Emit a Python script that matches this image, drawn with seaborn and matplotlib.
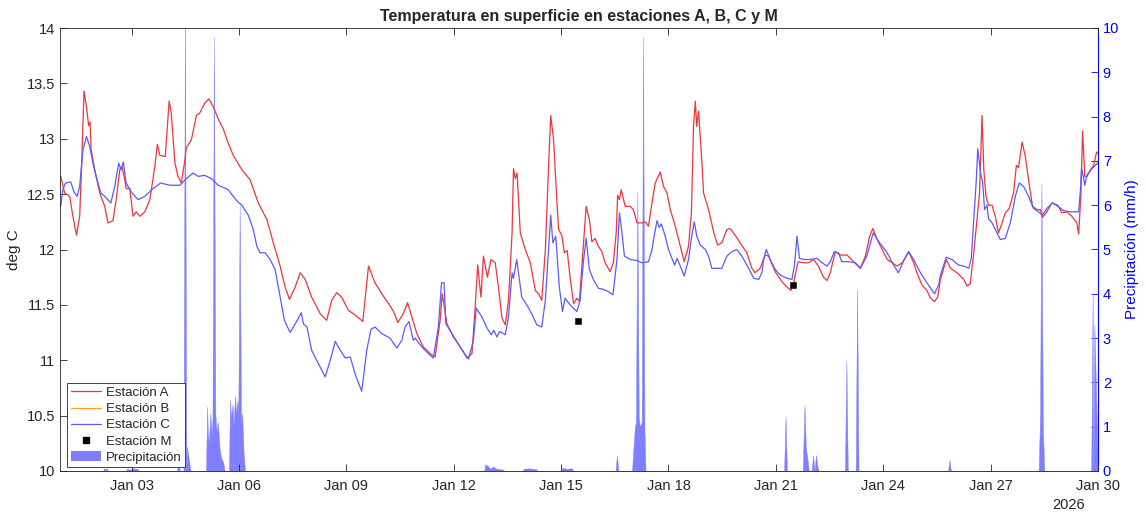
import numpy as np
import pandas as pd
import matplotlib
matplotlib.use("Agg")
import matplotlib.pyplot as plt
import matplotlib.dates as mdates
from matplotlib.lines import Line2D
from matplotlib.patches import Patch
import seaborn as sns

# ---------------- data (days since 2026-01-01 00:00) ----------------
dias_A = [0.02, 0.13, 0.27, 0.36, 0.46, 0.55, 0.61, 0.67, 0.74, 0.80, 0.84, 0.87, 0.97, 1.11, 1.25, 1.34, 1.48, 1.57,
          1.67, 1.73, 1.81, 1.85, 1.95, 2.04, 2.13, 2.23, 2.37, 2.51, 2.65, 2.72, 2.79, 2.94, 3.00, 3.05, 3.11, 3.21,
          3.30, 3.39, 3.49, 3.53, 3.67, 3.81, 3.90, 4.04, 4.16, 4.28, 4.42, 4.56, 4.70, 4.84, 4.97, 5.08, 5.31, 5.54,
          5.78, 5.96, 6.15, 6.29, 6.41, 6.57, 6.71, 6.85, 7.03, 7.27, 7.45, 7.59, 7.73, 7.87, 8.06, 8.24, 8.46, 8.62,
          8.80, 8.99, 9.18, 9.32, 9.44, 9.59, 9.71, 9.83, 9.97, 10.15, 10.34, 10.48, 10.62, 10.68, 10.81, 10.99, 11.18,
          11.37, 11.51, 11.60, 11.67, 11.76, 11.83, 11.94, 12.04, 12.16, 12.25, 12.35, 12.44, 12.53, 12.63, 12.67,
          12.72, 12.77, 12.86, 13.00, 13.14, 13.28, 13.37, 13.46, 13.56, 13.65, 13.71, 13.79, 13.88, 13.93, 14.02,
          14.09, 14.17, 14.25, 14.35, 14.44, 14.51, 14.58, 14.70, 14.79, 14.86, 14.95, 15.04, 15.14, 15.23, 15.37,
          15.46, 15.54, 15.58, 15.63, 15.68, 15.79, 15.93, 16.02, 16.12, 16.26, 16.35, 16.44, 16.54, 16.63, 16.77,
          16.86, 16.96, 17.05, 17.19, 17.33, 17.44, 17.56, 17.64, 17.70, 17.75, 17.79, 17.84, 17.93, 17.98, 18.12,
          18.26, 18.37, 18.49, 18.63, 18.72, 18.86, 19.00, 19.19, 19.33, 19.42, 19.56, 19.70, 19.80, 19.98, 20.17,
          20.31, 20.42, 20.50, 20.59, 20.63, 20.77, 20.91, 21.05, 21.19, 21.33, 21.43, 21.52, 21.66, 21.80, 21.99,
          22.17, 22.36, 22.50, 22.62, 22.71, 22.83, 22.97, 23.11, 23.25, 23.39, 23.53, 23.71, 23.85, 23.94, 24.08,
          24.22, 24.32, 24.43, 24.52, 24.60, 24.76, 24.88, 25.06, 25.25, 25.34, 25.43, 25.53, 25.62, 25.69, 25.76,
          25.81, 25.87, 25.94, 26.04, 26.13, 26.22, 26.32, 26.41, 26.52, 26.64, 26.72, 26.78, 26.88, 26.97, 27.06,
          27.17, 27.30, 27.39, 27.45, 27.57, 27.71, 27.88, 27.99, 28.13, 28.27, 28.41, 28.46, 28.52, 28.57, 28.63,
          28.69, 28.79, 28.88, 28.96, 29.02]
temp_A = [12.66, 12.51, 12.48, 12.30, 12.13, 12.30, 12.81, 13.43, 13.29, 13.12, 13.15, 12.90, 12.72, 12.51, 12.39, 12.24,
          12.26, 12.45, 12.72, 12.75, 12.63, 12.55, 12.55, 12.30, 12.34, 12.30, 12.34, 12.45, 12.75, 12.95, 12.85, 12.84,
          13.11, 13.34, 13.23, 12.78, 12.66, 12.60, 12.81, 12.92, 12.99, 13.21, 13.23, 13.32, 13.36, 13.29, 13.18, 13.09,
          12.96, 12.85, 12.78, 12.72, 12.63, 12.42, 12.27, 12.06, 11.85, 11.66, 11.55, 11.66, 11.79, 11.73, 11.57, 11.42,
          11.36, 11.54, 11.61, 11.57, 11.45, 11.41, 11.35, 11.85, 11.70, 11.60, 11.51, 11.44, 11.34, 11.42, 11.52, 11.39,
          11.24, 11.12, 11.06, 11.03, 11.36, 11.60, 11.33, 11.21, 11.12, 11.02, 11.06, 11.48, 11.86, 11.57, 11.94, 11.75,
          11.91, 11.88, 11.66, 11.38, 11.32, 11.54, 12.15, 12.73, 12.64, 12.69, 12.15, 12.00, 11.88, 11.63, 11.60, 11.54,
          12.00, 12.75, 13.21, 12.99, 12.45, 12.18, 12.13, 11.97, 11.99, 11.75, 11.51, 11.56, 11.53, 11.85, 12.39, 12.27,
          12.07, 12.10, 12.03, 11.98, 11.88, 11.80, 11.88, 12.15, 12.49, 12.45, 12.54, 12.39, 12.39, 12.36, 12.24, 12.24,
          12.25, 12.21, 12.42, 12.60, 12.70, 12.57, 12.51, 12.36, 12.21, 12.03, 11.89, 12.03, 12.33, 13.11, 13.34, 13.11,
          13.25, 12.81, 12.51, 12.36, 12.16, 12.04, 12.06, 12.18, 12.19, 12.13, 12.06, 11.97, 11.83, 11.79, 11.83, 11.95,
          11.94, 11.80, 11.71, 11.66, 11.63, 11.70, 11.85, 11.89, 11.88, 11.88, 11.91, 11.85, 11.75, 11.72, 11.79, 11.98,
          11.95, 11.95, 11.89, 11.83, 11.94, 12.12, 12.19, 12.09, 12.00, 11.91, 11.88, 11.85, 11.88, 11.98, 11.88, 11.79,
          11.68, 11.63, 11.56, 11.53, 11.57, 11.73, 11.91, 11.83, 11.79, 11.73, 11.67, 11.69, 11.97, 12.27, 12.51, 13.21,
          12.72, 12.48, 12.40, 12.40, 12.30, 12.15, 12.24, 12.33, 12.37, 12.51, 12.76, 12.74, 12.97, 12.84, 12.63, 12.39,
          12.36, 12.36, 12.29, 12.34, 12.42, 12.40, 12.33, 12.34, 12.30, 12.24, 12.14, 12.48, 13.07, 12.66, 12.66, 12.72,
          12.76, 12.88, 12.86]

dias_B = []
temp_B = []

dias_C = [0.02, 0.08, 0.15, 0.30, 0.39, 0.48, 0.55, 0.64, 0.74, 0.83, 0.92, 1.01, 1.14, 1.25, 1.42, 1.53, 1.64, 1.70,
          1.77, 1.85, 1.99, 2.18, 2.37, 2.60, 2.81, 3.07, 3.35, 3.53, 3.72, 3.86, 4.04, 4.23, 4.42, 4.70, 4.84, 4.97,
          5.08, 5.26, 5.40, 5.50, 5.59, 5.73, 5.87, 6.01, 6.15, 6.27, 6.43, 6.57, 6.66, 6.74, 6.80, 6.90, 7.03, 7.17,
          7.41, 7.55, 7.69, 7.83, 7.97, 8.11, 8.24, 8.43, 8.57, 8.69, 8.80, 8.99, 9.22, 9.41, 9.55, 9.64, 9.75, 9.87,
          9.92, 10.11, 10.29, 10.43, 10.57, 10.66, 10.73, 10.78, 10.95, 11.18, 11.41, 11.55, 11.63, 11.79, 11.93, 12.05,
          12.12, 12.21, 12.28, 12.44, 12.53, 12.63, 12.67, 12.76, 12.90, 13.04, 13.18, 13.32, 13.46, 13.56, 13.65,
          13.71, 13.77, 13.85, 13.95, 14.04, 14.11, 14.25, 14.44, 14.53, 14.63, 14.70, 14.79, 14.90, 15.04, 15.18,
          15.32, 15.45, 15.56, 15.63, 15.70, 15.77, 15.93, 16.12, 16.26, 16.44, 16.54, 16.60, 16.68, 16.74, 16.80,
          16.91, 17.00, 17.11, 17.17, 17.24, 17.33, 17.44, 17.56, 17.64, 17.72, 17.79, 17.89, 18.03, 18.12, 18.21,
          18.35, 18.49, 18.63, 18.77, 18.91, 19.05, 19.24, 19.38, 19.52, 19.61, 19.66, 19.73, 19.84, 19.98, 20.12,
          20.31, 20.45, 20.52, 20.59, 20.66, 20.77, 20.96, 21.15, 21.29, 21.43, 21.52, 21.63, 21.75, 21.84, 22.03,
          22.22, 22.36, 22.54, 22.72, 22.90, 23.09, 23.29, 23.42, 23.56, 23.71, 23.85, 24.04, 24.22, 24.43, 24.55,
          24.60, 24.76, 24.92, 25.10, 25.25, 25.39, 25.46, 25.53, 25.60, 25.64, 25.72, 25.78, 25.83, 25.90, 25.94,
          26.04, 26.18, 26.27, 26.41, 26.55, 26.69, 26.80, 26.92, 27.06, 27.20, 27.34, 27.45, 27.57, 27.73, 27.88,
          28.04, 28.23, 28.37, 28.46, 28.51, 28.54, 28.59, 28.63, 28.69, 28.83, 29.02]
temp_C = [12.39, 12.54, 12.60, 12.61, 12.52, 12.48, 12.57, 12.90, 13.02, 12.93, 12.78, 12.66, 12.51, 12.48, 12.42, 12.57,
          12.78, 12.72, 12.79, 12.60, 12.52, 12.45, 12.48, 12.55, 12.60, 12.58, 12.58, 12.64, 12.69, 12.66, 12.67, 12.64,
          12.58, 12.54, 12.48, 12.43, 12.40, 12.31, 12.18, 12.03, 11.97, 11.97, 11.91, 11.82, 11.57, 11.36, 11.25, 11.33,
          11.38, 11.43, 11.33, 11.30, 11.09, 11.00, 10.85, 11.00, 11.17, 11.09, 11.02, 11.03, 10.88, 10.72, 11.09, 11.28,
          11.30, 11.24, 11.20, 11.11, 11.18, 11.30, 11.35, 11.18, 11.20, 11.12, 11.06, 11.02, 11.30, 11.70, 11.70, 11.33,
          11.24, 11.12, 11.01, 11.18, 11.47, 11.39, 11.29, 11.23, 11.27, 11.21, 11.26, 11.23, 11.39, 11.79, 11.74, 11.91,
          11.57, 11.50, 11.42, 11.32, 11.30, 11.54, 12.00, 12.31, 12.06, 12.12, 11.66, 11.44, 11.56, 11.50, 11.44, 11.54,
          11.91, 12.10, 11.82, 11.73, 11.65, 11.64, 11.62, 11.59, 11.91, 12.33, 12.15, 11.94, 11.91, 11.90, 11.88, 11.89,
          12.00, 12.12, 12.26, 12.20, 12.23, 12.12, 12.00, 11.91, 11.86, 11.92, 11.85, 11.76, 11.91, 12.10, 12.25, 12.12,
          12.04, 12.00, 11.94, 11.83, 11.83, 11.83, 11.94, 11.98, 12.00, 11.94, 11.83, 11.74, 11.73, 11.79, 11.91, 12.00,
          11.91, 11.82, 11.77, 11.74, 11.73, 11.86, 12.12, 11.92, 11.91, 11.91, 11.92, 11.88, 11.85, 11.89, 11.98, 11.97,
          11.89, 11.89, 11.88, 11.83, 11.94, 12.15, 12.06, 11.98, 11.86, 11.79, 11.89, 11.98, 11.91, 11.79, 11.70, 11.60,
          11.68, 11.77, 11.93, 11.91, 11.86, 11.85, 11.83, 11.92, 12.27, 12.63, 12.91, 12.69, 12.60, 12.36, 12.40, 12.28,
          12.24, 12.15, 12.09, 12.10, 12.24, 12.48, 12.60, 12.57, 12.48, 12.37, 12.34, 12.31, 12.37, 12.42, 12.39, 12.35,
          12.34, 12.34, 12.34, 12.54, 12.73, 12.66, 12.58, 12.67, 12.73, 12.79]

dias_M = [14.48, 20.48]
temp_M = [11.35, 11.68]

dias_P = [0.00, 1.20, 1.23, 1.27, 1.31, 1.34, 1.84, 1.87, 1.95, 2.05, 2.18, 2.21,
          3.27, 3.31, 3.35, 3.45, 3.49, 3.53, 3.55, 3.61, 3.65,
          4.08, 4.11, 4.13, 4.16, 4.20, 4.24, 4.26, 4.30, 4.34, 4.37, 4.41, 4.46, 4.50, 4.56, 4.60,
          4.72, 4.75, 4.78, 4.82, 4.85, 4.89, 4.92, 4.96, 4.98, 5.02, 5.06, 5.09, 5.13, 5.17,
          11.85, 11.88, 11.95, 12.02, 12.10, 12.20, 12.30, 12.38, 12.41,
          12.92, 12.96, 13.10, 13.30, 13.34, 14.00, 14.04, 14.15, 14.30, 14.34,
          15.52, 15.56, 15.60,
          15.98, 16.02, 16.06, 16.09, 16.13, 16.17, 16.20, 16.25, 16.29, 16.33, 16.36,
          20.23, 20.27, 20.31, 20.75, 20.80, 20.84, 20.88, 20.92, 21.00, 21.04, 21.08, 21.12, 21.16, 21.20,
          21.93, 21.97, 22.01, 22.23, 22.27, 22.31,
          24.81, 24.85, 24.89,
          27.34, 27.38, 27.42, 27.46, 27.50,
          28.81, 28.85, 28.87, 28.90, 29.00]
prec_P = [0.0, 0.0, 0.06, 0.04, 0.06, 0.0, 0.0, 0.05, 0.03, 0.06, 0.04, 0.0,
          0.0, 0.18, 0.0, 0.0, 10.5, 0.0, 0.55, 0.2, 0.0,
          0.0, 1.45, 0.9, 0.6, 1.3, 0.8, 1.2, 9.8, 1.3, 0.9, 1.1, 0.5, 0.3, 0.2, 0.0,
          0.0, 1.6, 1.2, 1.5, 1.0, 1.7, 1.3, 1.6, 1.1, 6.0, 1.0, 1.3, 0.4, 0.0,
          0.0, 0.15, 0.12, 0.05, 0.1, 0.05, 0.04, 0.03, 0.0,
          0.0, 0.05, 0.06, 0.04, 0.0, 0.0, 0.07, 0.05, 0.06, 0.0,
          0.0, 0.36, 0.0,
          0.0, 0.5, 1.0, 1.1, 6.3, 1.2, 1.0, 1.1, 9.8, 0.9, 0.0,
          0.0, 1.23, 0.0, 0.0, 1.49, 0.5, 0.3, 0.0, 0.0, 0.36, 0.0, 0.36, 0.1, 0.0,
          0.0, 2.5, 0.0, 0.0, 4.1, 0.0,
          0.0, 0.25, 0.0,
          0.0, 1.2, 6.5, 1.0, 0.0,
          0.0, 3.97, 0.0, 3.3, 0.0]

# ---------------- figure ----------------
sns.set_style("ticks")
plt.rcParams['font.family'] = ['Liberation Sans', 'DejaVu Sans']

base = pd.Timestamp("2026-01-01")
def to_time(d):
    return base + pd.to_timedelta(np.asarray(d, dtype=float), unit="D")

dfA = pd.DataFrame({"t": to_time(dias_A), "T": temp_A})
dfC = pd.DataFrame({"t": to_time(dias_C), "T": temp_C})
dfM = pd.DataFrame({"t": to_time(dias_M), "T": temp_M})
tP = to_time(dias_P)

W, H = 1146, 514
fig = plt.figure(figsize=(W / 100, H / 100), dpi=100)
ax = fig.add_axes([60 / W, 1 - 471 / H, (1098 - 60) / W, (471 - 28) / H])
ax2 = ax.twinx()

col_A = "#F0343C"
col_B = "#F5A31A"
col_C = "#5A5AFF"
col_P = "#8080FF"

ax2.fill_between(tP, 0, prec_P, color=col_P, linewidth=0.3, edgecolor=col_P)
ax2.set_ylim(0, 10)

sns.lineplot(data=dfA, x="t", y="T", ax=ax, color=col_A, linewidth=0.9, sort=False, estimator=None)
if len(dias_B):
    ax.plot(to_time(dias_B), temp_B, color=col_B, linewidth=0.9)
sns.lineplot(data=dfC, x="t", y="T", ax=ax, color=col_C, linewidth=0.9, sort=False, estimator=None)
sns.scatterplot(data=dfM, x="t", y="T", ax=ax, color="black", marker="s", s=22, edgecolor="black", zorder=5)

ax.set_zorder(ax2.get_zorder() + 1)
ax.patch.set_visible(False)

ax.set_xlim(base, base + pd.Timedelta(days=29))
ax.set_ylim(10, 14)
ax.set_yticks([10, 10.5, 11, 11.5, 12, 12.5, 13, 13.5, 14])
ax.set_yticklabels(["10", "10.5", "11", "11.5", "12", "12.5", "13", "13.5", "14"])
xt = [base + pd.Timedelta(days=d) for d in range(2, 30, 3)]
ax.set_xticks(xt)
ax.xaxis.set_major_formatter(mdates.DateFormatter("%b %d"))
ax.set_xlabel("")
ax.set_ylabel("deg C", fontsize=11, color="#262626")
ax.set_title("Temperatura en superficie en estaciones A, B, C y M", fontsize=11.5, fontweight="bold", pad=5)

dark = "#262626"
for s in ["left", "bottom", "top"]:
    ax.spines[s].set_color(dark)
    ax.spines[s].set_linewidth(0.6)
ax.spines["right"].set_visible(False)
ax.tick_params(axis="both", direction="in", length=5, width=0.6, colors=dark, labelsize=10.5,
               top=True, labeltop=False, labelcolor=dark)
ax.tick_params(axis="x", pad=6)

blue = "#0000FF"
ax2.spines["right"].set_color(blue)
ax2.spines["right"].set_linewidth(0.8)
for s in ["left", "bottom", "top"]:
    ax2.spines[s].set_visible(False)
ax2.set_yticks(range(0, 11))
ax2.tick_params(axis="y", direction="in", length=5, width=0.6, colors=blue, labelsize=10.5)
ax2.set_ylabel("Precipitación (mm/h)", color=blue, fontsize=11)

fig.text(1069 / W, 1 - 505 / H, "2026", ha="center", va="center", fontsize=10.5, color=dark)

handles = [Line2D([], [], color=col_A, lw=0.9),
           Line2D([], [], color=col_B, lw=0.9),
           Line2D([], [], color=col_C, lw=0.9),
           Line2D([], [], color="black", marker="s", ls="none", markersize=4),
           Patch(facecolor=col_P, edgecolor="none")]
labels = ["Estación A", "Estación B", "Estación C", "Estación M", "Precipitación"]
leg = ax.legend(handles, labels, loc="lower left", bbox_to_anchor=(0.007, 0.009), fontsize=9.5,
                frameon=True, fancybox=False, framealpha=1, edgecolor=dark, borderpad=0.25,
                labelspacing=0.3, handlelength=2.3, handletextpad=0.35, borderaxespad=0)
leg.get_frame().set_linewidth(0.6)

fig.savefig("out.png", dpi=100)
